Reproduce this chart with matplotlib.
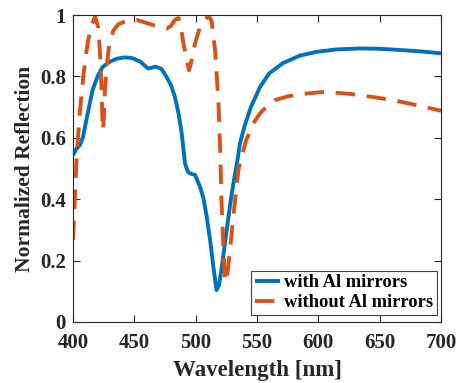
import matplotlib
matplotlib.use("Agg")
import matplotlib.pyplot as plt

# Data
wl_with = [400, 403, 405.7, 408, 412, 416, 420, 424, 430, 436, 442, 448, 455, 461, 464, 467, 472, 476, 480, 483, 486,
           488.6, 491.3, 493.5, 495.4, 499.5, 503.6, 506.5, 509, 512, 514.4, 517, 519, 521, 523, 525.3, 528, 530.7,
           534.5, 536, 540, 545, 552.5, 560, 571, 585, 598.6, 615, 634, 650, 666.6, 685, 700]
r_with = [0.544, 0.565, 0.577, 0.6, 0.68, 0.756, 0.8, 0.83, 0.848, 0.858, 0.862, 0.86, 0.848, 0.826, 0.828, 0.832,
          0.825, 0.8, 0.77, 0.734, 0.68, 0.615, 0.517, 0.49, 0.484, 0.479, 0.44, 0.4, 0.343, 0.26, 0.18, 0.104,
          0.12, 0.17, 0.23, 0.3, 0.38, 0.45, 0.538, 0.58, 0.64, 0.7, 0.766, 0.81, 0.843, 0.868, 0.88, 0.888, 0.891,
          0.89, 0.886, 0.881, 0.875]

wl_without = [400, 401.5, 403, 405.5, 408.4, 410.5, 412.5, 415, 418, 420.6, 422, 423.4, 424.2, 425, 426, 428, 429.6,
              433, 437, 443.8, 452, 465.5, 476.4, 480, 483, 486, 488, 490, 494, 494.6, 496, 499.5, 503.6, 509,
              510.3, 513, 515.8, 518.5, 520, 521, 522.5, 524, 526, 528, 530.7, 534.8, 536, 541, 547, 552.5, 555,
              564.7, 575, 585, 605.4, 625.8, 646, 666.6, 685, 700]
r_without = [0.267, 0.4, 0.538, 0.68, 0.8, 0.87, 0.92, 0.965, 0.995, 0.96, 0.875, 0.745, 0.625, 0.65, 0.755, 0.85,
             0.908, 0.95, 0.97, 0.981, 0.984, 0.967, 0.956, 0.965, 0.984, 0.99, 0.96, 0.908, 0.83, 0.82, 0.84,
             0.908, 0.962, 0.99, 1.0, 0.98, 0.886, 0.723, 0.56, 0.4, 0.25, 0.13, 0.16, 0.235, 0.343, 0.495, 0.517,
             0.59, 0.647, 0.68, 0.69, 0.723, 0.735, 0.742, 0.75, 0.743, 0.732, 0.718, 0.702, 0.688]

x_ticks = [400, 450, 500, 550, 600, 650, 700]
y_ticks = [0, 0.2, 0.4, 0.6, 0.8, 1]
y_tick_labels = ["0", "0.2", "0.4", "0.6", "0.8", "1"]

plt.rcParams['font.family'] = ['Liberation Serif', 'DejaVu Serif']
plt.rcParams['font.weight'] = 'bold'

fig = plt.figure(figsize=(4.58, 3.83), dpi=100)
ax = fig.add_axes([0.1594, 0.1593, 0.8035, 0.8015])

ax.plot(wl_with, r_with, color='#0072BD', lw=2.8, label='with Al mirrors', solid_capstyle='butt')
ax.plot(wl_without, r_without, color='#D95319', lw=2.8, dashes=(5, 3), label='without Al mirrors')

ax.set_xlim(400, 700)
ax.set_ylim(0, 1)
ax.set_xticks(x_ticks)
ax.set_yticks(y_ticks)
ax.set_yticklabels(y_tick_labels)
ax.tick_params(direction='in', top=True, right=True, labelsize=15, length=5, width=0.8, colors='#262626')
ax.tick_params(axis='x', pad=8)
ax.tick_params(axis='y', pad=5)
for lbl in ax.get_xticklabels() + ax.get_yticklabels():
    lbl.set_fontweight('bold')
for s in ax.spines.values():
    s.set_linewidth(0.8)
    s.set_color('#262626')

ax.set_xlabel('Wavelength [nm]', fontsize=16.5, fontweight='bold', color='#262626', labelpad=5)
ax.set_ylabel('Normalized Reflection', fontsize=15.5, fontweight='bold', color='#262626', labelpad=4)

leg = ax.legend(loc='lower right', bbox_to_anchor=(0.989, 0.023), prop={'weight': 'bold', 'size': 13.3},
                fancybox=False, edgecolor='#404040', framealpha=1, handlelength=1.4, handletextpad=0.2,
                borderpad=0.2, labelspacing=0.15, borderaxespad=0)
leg.get_frame().set_linewidth(0.8)

fig.savefig('out.png', dpi=100)
